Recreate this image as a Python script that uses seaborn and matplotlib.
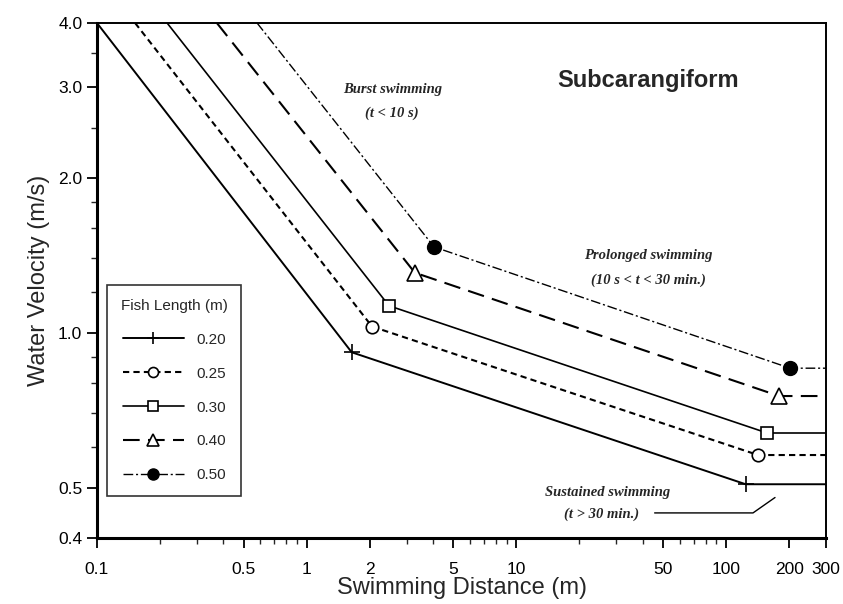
import numpy as np
import pandas as pd
import seaborn as sns
import matplotlib
matplotlib.use("Agg")
import matplotlib.pyplot as plt
from matplotlib.ticker import FixedLocator, NullFormatter, FixedFormatter

# ---- data ----
lengths = ["0.20", "0.25", "0.30", "0.40", "0.50"]
dist_020 = [0.10, 1.64, 124, 300]
vel_020 = [4.00, 0.918, 0.509, 0.509]
dist_025 = [0.152, 2.05, 142, 300]
vel_025 = [4.00, 1.03, 0.58, 0.58]
dist_030 = [0.216, 2.47, 157, 300]
vel_030 = [4.00, 1.13, 0.64, 0.64]
dist_040 = [0.373, 3.28, 179, 300]
vel_040 = [4.00, 1.31, 0.755, 0.755]
dist_050 = [0.58, 4.05, 202, 300]
vel_050 = [4.00, 1.47, 0.855, 0.855]

x_ticks = [0.1, 0.5, 1, 2, 5, 10, 50, 100, 200, 300]
x_tick_labels = ["0.1", "0.5", "1", "2", "5", "10", "50", "100", "200", "300"]
y_ticks = [0.4, 0.5, 1.0, 2.0, 3.0, 4.0]
y_tick_labels = ["0.4", "0.5", "1.0", "2.0", "3.0", "4.0"]

series = {
    "0.20": (dist_020, vel_020),
    "0.25": (dist_025, vel_025),
    "0.30": (dist_030, vel_030),
    "0.40": (dist_040, vel_040),
    "0.50": (dist_050, vel_050),
}

rows = []
for L in lengths:
    d, v = series[L]
    for di, vi in zip(d, v):
        rows.append({"Fish Length (m)": L, "Distance": di, "Velocity": vi})
df = pd.DataFrame(rows)

styles = {
    "0.20": dict(ls="-", lw=1.4, marker="+", ms=11, mfc="black", mew=1.2),
    "0.25": dict(ls=(0, (3, 2)), lw=1.5, marker="o", ms=9, mfc="white", mew=1.2),
    "0.30": dict(ls="-", lw=1.2, marker="s", ms=9, mfc="white", mew=1.2),
    "0.40": dict(ls=(0, (8, 4)), lw=1.5, marker="^", ms=11, mfc="white", mew=1.2),
    "0.50": dict(ls=(0, (7, 2, 1.5, 2)), lw=1.0, marker="o", ms=10, mfc="black", mew=1.0),
}

sns.set_style("ticks")
plt.rcParams["font.family"] = ["Liberation Sans", "DejaVu Sans"]

fig = plt.figure(figsize=(8.43, 6.04), dpi=100)
ax = fig.add_axes([0.115, 0.109, 0.865, 0.853])

for L in lengths:
    sub = df[df["Fish Length (m)"] == L]
    st = styles[L]
    sns.lineplot(data=sub, x="Distance", y="Velocity", ax=ax, color="black",
                 linestyle=st["ls"], linewidth=st["lw"], marker=st["marker"],
                 markersize=st["ms"], markerfacecolor=st["mfc"],
                 markeredgecolor="black", markeredgewidth=st["mew"],
                 markevery=[1, 2], label=L, sort=False, estimator=None)

ax.set_xscale("log")
ax.set_yscale("log")
ax.set_xlim(0.1, 300)
ax.set_ylim(0.4, 4.0)

ax.xaxis.set_major_locator(FixedLocator(x_ticks))
ax.xaxis.set_major_formatter(FixedFormatter(x_tick_labels))
xminor = [0.2, 0.3, 0.4, 0.6, 0.7, 0.8, 0.9, 3, 4, 6, 7, 8, 9, 20, 30, 40, 60, 70, 80, 90]
ax.xaxis.set_minor_locator(FixedLocator(xminor))
ax.xaxis.set_minor_formatter(NullFormatter())
ax.yaxis.set_major_locator(FixedLocator(y_ticks))
ax.yaxis.set_major_formatter(FixedFormatter(y_tick_labels))
yminor = [0.6, 0.7, 0.8, 0.9, 1.2, 1.4, 1.6, 1.8, 2.5, 3.5]
ax.yaxis.set_minor_locator(FixedLocator(yminor))
ax.yaxis.set_minor_formatter(NullFormatter())

ax.tick_params(axis="both", which="major", direction="out", length=7, width=1.3,
               labelsize=12.5, colors="black")
ax.tick_params(axis="both", which="minor", direction="out", length=4, width=1.0)
ax.tick_params(axis="x", pad=10)

for side in ["left", "bottom"]:
    ax.spines[side].set_linewidth(2.2)
for side in ["top", "right"]:
    ax.spines[side].set_linewidth(1.4)
    ax.spines[side].set_visible(True)
for s in ax.spines.values():
    s.set_color("black")

ax.set_xlabel("Swimming Distance (m)", fontsize=17, labelpad=0)
ax.set_ylabel("Water Velocity (m/s)", fontsize=17, labelpad=6)

serif_it = dict(family=["Liberation Serif", "DejaVu Serif"], style="italic",
                weight="bold", fontsize=10.5, ha="center", va="center")
ax.text(0.405, 0.870, "Burst swimming", transform=ax.transAxes, **serif_it)
ax.text(0.405, 0.825, "(t < 10 s)", transform=ax.transAxes, **serif_it)
ax.text(0.756, 0.549, "Prolonged swimming", transform=ax.transAxes, **serif_it)
ax.text(0.756, 0.501, "(10 s < t < 30 min.)", transform=ax.transAxes, **serif_it)
ax.text(0.701, 0.089, "Sustained swimming", transform=ax.transAxes, **serif_it)
ax.text(0.692, 0.047, "(t > 30 min.)", transform=ax.transAxes, **serif_it)
ax.annotate("", xy=(0.933, 0.082), xytext=(0.761, 0.049), xycoords="axes fraction",
            arrowprops=dict(arrowstyle="-", color="black", lw=1.0,
                            connectionstyle="angle,angleA=0,angleB=35,rad=0"))

ax.text(0.756, 0.888, "Subcarangiform", transform=ax.transAxes, fontsize=17,
        fontweight="bold", ha="center", va="center")

leg = ax.legend(title="Fish Length (m)", loc="upper left",
                bbox_to_anchor=(0.0137, 0.491), borderaxespad=0.0,
                frameon=True, fancybox=False,
                edgecolor="black", fontsize=11, title_fontsize=11,
                handlelength=4.0, labelspacing=1.3, borderpad=0.9, numpoints=1,
                handletextpad=0.8, markerscale=0.8)
leg.get_frame().set_linewidth(1.2)

fig.savefig("out.png", dpi=100)
